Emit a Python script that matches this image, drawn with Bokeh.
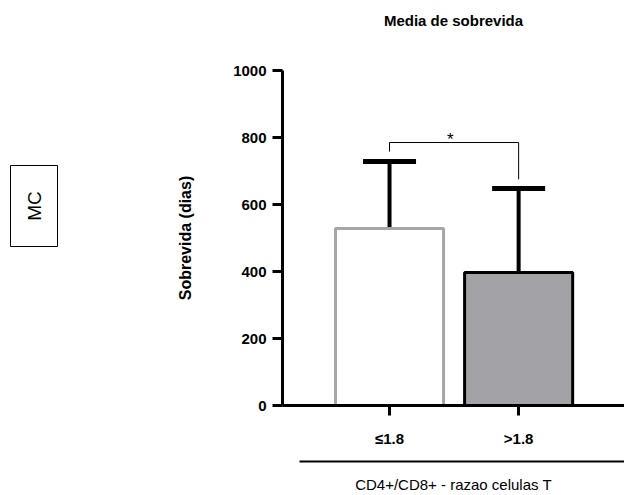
import math
from bokeh.plotting import figure
from bokeh.layouts import row
from bokeh.models import (ColumnDataSource, FixedTicker, LinearAxis, Range1d,
                          Whisker, TeeHead)
from bokeh.embed import file_html
from bokeh.resources import INLINE

# ---- data ----
categories = ["≤1.8", ">1.8"]
x_pos = [1, 2]
means = [528, 397]
sd_upper = [728, 648]
bar_fill = ["white", "#a3a3a7"]
bar_line = ["#a6a6a6", "black"]
y_ticks = [0, 200, 400, 600, 800, 1000]
bracket_top = 785
bracket_left_end = 758
bracket_right_end = 675
sig_label = "*"
side_label = "MC"

FONT = "Liberation Sans"

# ---- side panel with the boxed "MC" label (frame aligned with main frame) ----
side = figure(width=70, height=495, output_backend="svg", toolbar_location=None,
              x_range=Range1d(0, 70), y_range=Range1d(405, 70),
              x_axis_location=None, y_axis_location=None,
              min_border=0)
side.grid.visible = False
side.outline_line_color = None
side.quad(left=[10], right=[57], top=[165], bottom=[246], fill_color="white",
          line_color="black", line_width=1)
side.text(x=[33.5], y=[205.5], text=[side_label], angle=math.pi / 2,
          text_align="center", text_baseline="middle",
          text_font={"value": FONT}, text_font_size="19px", text_color="black")

# ---- main chart ----
p = figure(width=554, height=495, output_backend="svg", toolbar_location=None,
           x_range=Range1d(0.171, 2.82), y_range=Range1d(0, 1000),
           min_border_left=212, min_border_right=0, min_border_top=70,
           min_border_bottom=90, title="Media de sobrevida")
p.outline_line_color = None
p.xgrid.visible = False
p.ygrid.visible = False

xa = p.below[0]
ya = p.left[0]

p.title.align = "center"
p.title.text_font = FONT
p.title.text_font_size = "15px"
p.title.text_font_style = "bold"
p.title.text_color = "black"

# spacer above the frame to lift the title
spacer = LinearAxis(ticker=FixedTicker(ticks=[]))
spacer.axis_line_color = None
spacer.major_tick_line_color = None
spacer.minor_tick_line_color = None
spacer.major_tick_out = 0
spacer.major_label_text_font_size = "0px"
spacer.major_label_standoff = 0
spacer.axis_label = " "
spacer.axis_label_text_font_size = "12px"
spacer.axis_label_standoff = 20
p.add_layout(spacer, "above")

src = ColumnDataSource(dict(x=x_pos, top=means, upper=sd_upper, fill=bar_fill,
                            line=bar_line))
p.vbar(x="x", top="top", bottom=0, width=0.837, source=src, fill_color="fill",
       line_color="line", line_width=3)

w = Whisker(source=src, base="x", lower="top", upper="upper", line_width=4,
            line_color="black",
            upper_head=TeeHead(size=53, line_width=5, line_color="black"),
            lower_head=None)
p.add_layout(w)

# significance bracket
p.line(x=[x_pos[0], x_pos[0], x_pos[1], x_pos[1]],
       y=[bracket_left_end, bracket_top, bracket_top, bracket_right_end],
       line_color="black", line_width=1)
p.text(x=[(x_pos[0] + x_pos[1]) / 2 - 0.03], y=[bracket_top + 10], text=[sig_label],
       text_align="center", text_baseline="middle", text_font_size="17px",
       text_color="black", text_font={"value": FONT})

# y axis
ya.ticker = FixedTicker(ticks=y_ticks)
ya.axis_line_width = 3
ya.major_tick_line_width = 3
ya.major_tick_out = 10
ya.major_tick_in = 0
ya.minor_tick_line_color = None
ya.major_label_text_font = FONT
ya.major_label_text_font_size = "15px"
ya.major_label_text_font_style = "bold"
ya.major_label_text_color = "black"
ya.major_label_standoff = 6
ya.axis_label = "Sobrevida (dias)"
ya.axis_label_text_font = FONT
ya.axis_label_text_font_size = "16px"
ya.axis_label_text_font_style = "bold"
ya.axis_label_text_color = "black"
ya.axis_label_standoff = 36

# x axis
xa.ticker = FixedTicker(ticks=x_pos)
xa.major_label_overrides = {x: c for x, c in zip(x_pos, categories)}
xa.axis_line_width = 3
xa.major_tick_line_width = 3
xa.major_tick_out = 10
xa.major_tick_in = 0
xa.minor_tick_line_color = None
xa.major_label_text_font = FONT
xa.major_label_text_font_size = "15px"
xa.major_label_text_font_style = "bold"
xa.major_label_text_color = "black"
xa.major_label_standoff = 14
xa.axis_label = " "
xa.axis_label_text_font_size = "6px"
xa.axis_label_standoff = 3

# second axis: line + group label
xa2 = LinearAxis(ticker=FixedTicker(ticks=[]), bounds=(0.303, 2.82))
xa2.axis_line_width = 2
xa2.major_label_text_font_size = "0px"
xa2.major_tick_line_color = None
xa2.minor_tick_line_color = None
xa2.axis_label = "CD4+/CD8+ - razao celulas T"
xa2.axis_label_text_font = FONT
xa2.axis_label_text_font_size = "15px"
xa2.axis_label_text_font_style = "normal"
xa2.axis_label_text_color = "black"
xa2.axis_label_standoff = 14
p.add_layout(xa2, "below")

layout = row(side, p, spacing=0)
open("out.html", "w").write(file_html(layout, INLINE))
